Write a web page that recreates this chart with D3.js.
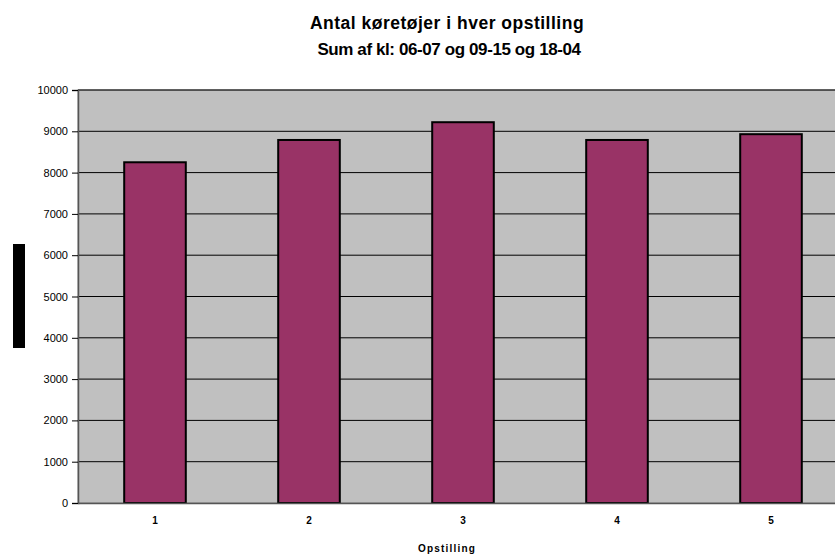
<!DOCTYPE html>
<html>
<head>
<meta charset="utf-8">
<script src="https://cdn.jsdelivr.net/npm/d3@7"></script>
<style>
  body { margin: 0; background: #fff; }
  svg { display: block; font-family: "Liberation Sans", Arial, sans-serif; }
</style>
</head>
<body>
<svg id="chart" width="835" height="556"></svg>
<script>
var categories = ["1", "2", "3", "4", "5"];
var values = [8250, 8790, 9220, 8790, 8930];
var yTicks = [0, 1000, 2000, 3000, 4000, 5000, 6000, 7000, 8000, 9000, 10000];

var svg = d3.select("#chart");

var plotLeft = 78, plotRight = 848, plotTop = 90, plotBottom = 503;

var xScale = d3.scaleBand().domain(categories).range([plotLeft, plotRight])
    .paddingInner(0.6).paddingOuter(0.3);
var yScale = d3.scaleLinear().domain([0, 10000]).range([plotBottom, plotTop]);

// plot area
svg.append("rect")
   .attr("x", plotLeft).attr("y", plotTop)
   .attr("width", plotRight - plotLeft).attr("height", plotBottom - plotTop)
   .attr("fill", "#c0c0c0")
   .attr("stroke", "#808080");

// gridlines
svg.append("g").selectAll("line")
   .data(yTicks.slice(1))
   .enter().append("line")
   .attr("x1", plotLeft).attr("x2", plotRight)
   .attr("y1", function(d) { return yScale(d); })
   .attr("y2", function(d) { return yScale(d); })
   .attr("stroke", "#000")
   .attr("stroke-width", 1);

// bars
svg.append("g").selectAll(".bar")
   .data(values)
   .enter().append("rect")
   .attr("class", "bar")
   .attr("x", function(d, i) { return xScale(categories[i]); })
   .attr("y", function(d) { return yScale(d); })
   .attr("width", xScale.bandwidth())
   .attr("height", function(d) { return plotBottom - yScale(d); })
   .attr("fill", "#993366")
   .attr("stroke", "#000")
   .attr("stroke-width", 2);

// y axis
var yAxis = svg.append("g")
   .attr("transform", "translate(" + plotLeft + ",0)")
   .call(d3.axisLeft(yScale).tickValues(yTicks).tickFormat(d3.format("d"))
         .tickSize(6).tickPadding(4));
yAxis.select(".domain").attr("stroke", "#555").attr("stroke-width", 1.5);
yAxis.selectAll(".tick line").attr("stroke", "#000");
yAxis.selectAll("text").attr("font-size", "11px").attr("fill", "#000")
   .attr("font-family", "Liberation Sans, Arial, sans-serif");

// x axis
var xAxis = svg.append("g")
   .attr("transform", "translate(0," + plotBottom + ")")
   .call(d3.axisBottom(xScale).tickSize(0).tickPadding(14));
xAxis.select(".domain").attr("stroke", "#555").attr("stroke-width", 1.5);
xAxis.selectAll("text").attr("font-size", "10px").attr("font-weight", "bold")
   .attr("fill", "#000").attr("font-family", "Liberation Sans, Arial, sans-serif");

// axis titles
svg.append("text")
   .attr("x", 447).attr("y", 552)
   .attr("text-anchor", "middle")
   .attr("font-size", "10px")
   .attr("font-weight", "bold")
   .attr("letter-spacing", "1.2px")
   .text("Opstilling");

// y title (rendered as a solid block in the original)
svg.append("rect")
   .attr("x", 13).attr("y", 244)
   .attr("width", 12).attr("height", 104)
   .attr("fill", "#000");

// title
var title = svg.append("text")
   .attr("text-anchor", "middle")
   .attr("font-size", "17.5px")
   .attr("font-weight", "bold");
title.append("tspan").attr("x", 447).attr("y", 29)
   .attr("letter-spacing", "0.5px")
   .text("Antal køretøjer i hver opstilling");
title.append("tspan").attr("x", 449).attr("y", 55)
   .attr("font-size", "17px")
   .attr("letter-spacing", "-0.4px")
   .text("Sum af kl: 06-07 og 09-15 og 18-04");
</script>
</body>
</html>
